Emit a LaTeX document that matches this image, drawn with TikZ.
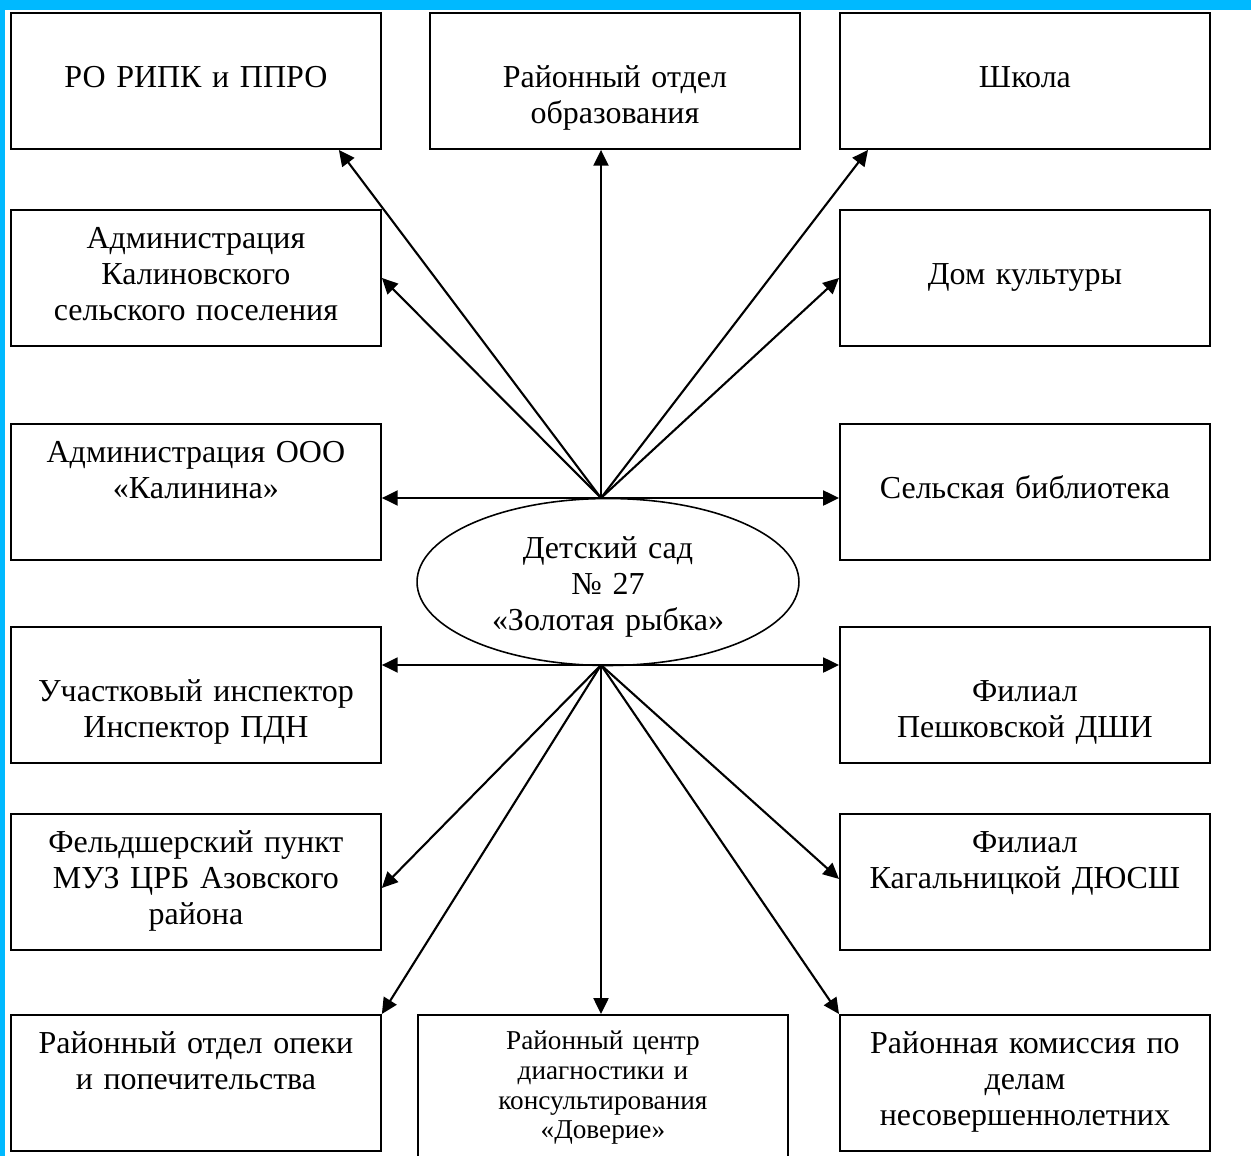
\documentclass[tikz,border=0pt]{standalone}
\usepackage{fontspec}
\setmainfont{Liberation Serif}
\usetikzlibrary{arrows.meta,shapes.geometric,calc}
\definecolor{edgeblue}{RGB}{0,185,255}
\tikzset{
    box/.style={rectangle,draw,line width=1.1pt,inner sep=0pt,text width=7.4cm,align=center,anchor=north west,font=\fontsize{18.2}{20.4}\selectfont},
    deep/.style={text height=1.5cm,text depth=1.22cm},
    flat/.style={text height=0.78cm,text depth=1.94cm},
    hub/.style={ellipse,draw,line width=0.9pt,minimum width=7.64cm,minimum height=3.34cm,inner sep=0pt,text width=5.2cm,align=center,text height=0.53cm,text depth=1.47cm,font=\fontsize{18.2}{20.4}\selectfont},
    link/.style={-{Triangle[length=9pt,width=8.5pt]},line width=1.2pt}
}
\begin{document}
\begin{tikzpicture}[x=0.02cm,y=-0.02cm]

    \useasboundingbox (0,0) rectangle (1251,1156);
    \clip (0,0) rectangle (1251,1156);
    \fill[edgeblue] (0,0) rectangle (1251,10);
    \fill[edgeblue] (0,0) rectangle (5,1156);

    \node[hub] (sad) at (608,582) {Детский сад\\№ 27\\«Золотая рыбка»};
    \coordinate (up) at (601,498);
    \coordinate (down) at (601,665);

    \node[box,deep] (ripk)     at (10,12)   {РО РИПК и ППРО};
    \node[box,deep] (rono)     at (429,12)  {Районный отдел\\образования};
    \node[box,deep] (school)   at (839,12)  {Школа};
    \node[box,flat] (admin)    at (10,209)  {Администрация\\Калиновского\\сельского поселения};
    \node[box,deep] (dk)       at (839,209) {Дом культуры};
    \node[box,flat] (ooo)      at (10,423)  {Администрация ООО\\«Калинина»};
    \node[box,deep] (library)  at (839,423) {Сельская библиотека};
    \node[box,deep] (police)   at (10,626)  {Участковый инспектор\\Инспектор ПДН};
    \node[box,deep] (dshi)     at (839,626) {Филиал\\Пешковской ДШИ};
    \node[box,flat] (feldsher) at (10,813)  {Фельдшерский пункт\\МУЗ ЦРБ Азовского\\района};
    \node[box,flat] (dyussh)   at (839,813) {Филиал\\Кагальницкой ДЮСШ};
    \node[box,flat] (opeka)    at (10,1014) {Районный отдел опеки\\и попечительства};
    \node[box,font=\fontsize{15.5}{16.8}\selectfont,text height=0.7cm,text depth=2.6cm]
                    (center)   at (417,1014) {Районный центр\\диагностики и\\консультирования\\«Доверие»};
    \node[box,flat] (kdn)      at (839,1014) {Районная комиссия по\\делам\\несовершеннолетних};

    % upper fan
    \draw[link] (up) -- ($(ripk.south east)+(-43,0)$);
    \draw[link] (up) -- (up |- rono.south);
    \draw[link] (up) -- ($(school.south west)+(29,0)$);
    \draw[link] (up) -- (admin.east);
    \draw[link] (up) -- (dk.west);
    \draw[link] (up) -- (up -| ooo.east);
    \draw[link] (up) -- (up -| library.west);

    % lower fan
    \draw[link] (down) -- (down -| police.east);
    \draw[link] (down) -- (down -| dshi.west);
    \draw[link] (down) -- ($(feldsher.east)+(0,6)$);
    \draw[link] (down) -- ($(dyussh.west)+(0,-3)$);
    \draw[link] (down) -- (opeka.north east);
    \draw[link] (down) -- (down |- center.north);
    \draw[link] (down) -- (kdn.north west);

\end{tikzpicture}
\end{document}
